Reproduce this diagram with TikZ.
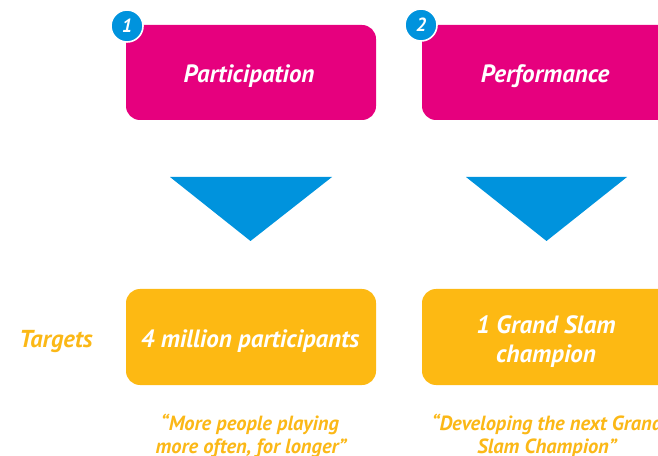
\documentclass[tikz,border=0pt]{standalone}
\usepackage{fontspec}
\setmainfont{PT Sans}
\definecolor{pinkbox}{HTML}{E6007E}
\definecolor{bluetri}{HTML}{0093DD}
\definecolor{yelbox}{HTML}{FDB913}
\definecolor{yeltext}{HTML}{FBB817}
\tikzset{
  pinkstage/.style={fill=pinkbox, rounded corners=14bp, minimum width=250bp, minimum height=95bp, inner sep=0pt},
  targetbox/.style={fill=yelbox, rounded corners=14bp, minimum width=250bp, minimum height=96bp, inner sep=0pt},
  boxtext/.style={text=white, inner sep=0pt, anchor=base, font=\fontsize{25bp}{29bp}\selectfont\bfseries\itshape},
  badge/.style={circle, fill=bluetri, draw=white, line width=1.6bp, minimum size=32bp, inner sep=0pt, text=white, font=\fontsize{19bp}{19bp}\selectfont\bfseries\itshape},
  quotetext/.style={text=yeltext, inner sep=0pt, anchor=base, font=\fontsize{20.5bp}{23bp}\selectfont\bfseries\itshape},
  arrowtri/.style={fill=bluetri}
}
\begin{document}
\begin{tikzpicture}[x=1bp,y=-1bp]
\useasboundingbox (0,0) rectangle (658,456);
\clip (0,0) rectangle (658,456);
% stage boxes
\node[pinkstage] (p1) at (251,72.5) {};
\node[pinkstage] (p2) at (547,72.5) {};
\node[boxtext] (p1t) at (249,83) {Participation};
\node[boxtext] (p2t) at (545,83) {Performance};
\node[badge] (b1) at (127,26) {1};
\node[badge] (b2) at (421,25) {2};
% triangles
\coordinate (t1a) at (170,177);
\coordinate (t1b) at (332,177);
\coordinate (t1c) at (250.5,241);
\fill[arrowtri] (t1a) -- (t1b) -- (t1c) -- cycle;
\coordinate (t2a) at (466,177);
\coordinate (t2b) at (627,177);
\coordinate (t2c) at (546.5,241);
\fill[arrowtri] (t2a) -- (t2b) -- (t2c) -- cycle;
% target boxes
\node[targetbox] (y1) at (251,337) {};
\node[targetbox] (y2) at (547,337) {};
\node[boxtext] (y1t) at (250,347) {4 million participants};
\node[boxtext] (y2ta) at (546,333) {1 Grand Slam};
\node[boxtext] (y2tb) at (546,362) {champion};
\node[quotetext, font=\fontsize{24.5bp}{28bp}\selectfont\bfseries\itshape] (tg) at (56,347) {Targets};
% quotes
\node[quotetext] (q1a) at (250,430) {“More people playing};
\node[quotetext] (q1b) at (251,453) {more often, for longer”};
\node[quotetext] (q2a) at (547,430) {“Developing the next Grand};
\node[quotetext] (q2b) at (547,453) {Slam Champion”};
\end{tikzpicture}
\end{document}
